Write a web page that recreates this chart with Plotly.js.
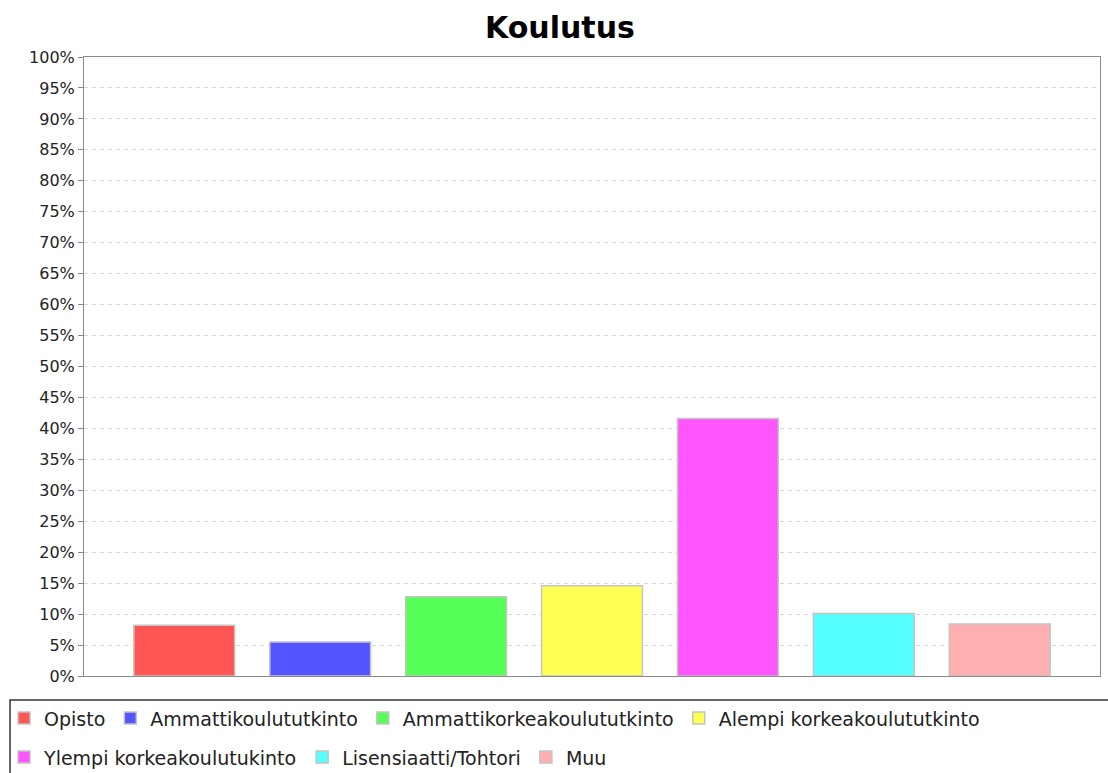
<!DOCTYPE html>
<html>
<head>
<meta charset="utf-8">
<script src="https://cdn.plot.ly/plotly-3.0.1.min.js"></script>
<style>
  html, body { margin: 0; padding: 0; background: #ffffff; }
  #chart { width: 1108px; height: 773px; }
</style>
</head>
<body>
<div id="chart"></div>
<script>
// ---- data ----
const chartTitle = 'Koulutus';
const categories = [
  'Opisto',
  'Ammattikoulututkinto',
  'Ammattikorkeakoulututkinto',
  'Alempi korkeakoulututkinto',
  'Ylempi korkeakoulutukinto',
  'Lisensiaatti/Tohtori',
  'Muu'
];
const percentValues = [8.2, 5.5, 12.8, 14.6, 41.6, 10.1, 8.4];
const seriesColors = ['#FF5555', '#5555FF', '#55FF55', '#FFFF55', '#FF55FF', '#55FFFF', '#FFAFAF'];
const firstRowCount = 4;

// ---- traces ----
const traces = categories.map((name, i) => ({
  type: 'bar',
  name: name,
  x: [name],
  y: [percentValues[i]],
  width: 0.742,
  marker: { color: seriesColors[i], line: { color: '#c4c4c4', width: 1.5 } },
  legend: i < firstRowCount ? 'legend' : 'legend2',
  hoverinfo: 'name+y'
}));

const legendFont = { family: 'DejaVu Sans, sans-serif', size: 19, color: '#222222' };

const layout = {
  width: 1108,
  height: 773,
  margin: { l: 84, r: 8, t: 57, b: 97, autoexpand: false },
  paper_bgcolor: '#ffffff',
  plot_bgcolor: '#ffffff',
  barmode: 'overlay',
  showlegend: true,
  title: {
    text: chartTitle,
    font: { family: 'DejaVu Sans, sans-serif', size: 30, color: '#000000', weight: 'bold' },
    xref: 'container', x: 0.5054, xanchor: 'center',
    yref: 'container', y: 0.965, yanchor: 'middle'
  },
  xaxis: {
    type: 'category',
    categoryorder: 'array',
    categoryarray: categories,
    range: [-0.738, 6.738],
    showticklabels: false,
    ticks: '',
    showgrid: false,
    showline: true, linecolor: '#8a8a8a', linewidth: 1, mirror: true,
    zeroline: false,
    fixedrange: true
  },
  yaxis: {
    range: [0, 100],
    tickmode: 'linear', tick0: 0, dtick: 5,
    ticksuffix: '%',
    ticks: 'outside', ticklen: 5, tickcolor: '#8a8a8a', tickwidth: 1,
    tickfont: { family: 'DejaVu Sans, sans-serif', size: 16, color: '#222222' },
    showgrid: true, gridcolor: '#d6d6d6', griddash: '4px,4px', gridwidth: 1,
    showline: true, linecolor: '#8a8a8a', linewidth: 1, mirror: true,
    zeroline: false,
    fixedrange: true
  },
  legend: {
    orientation: 'h',
    x: -0.0787, xanchor: 'left', xref: 'paper',
    y: -0.0376, yanchor: 'top', yref: 'paper',
    font: legendFont,
    bgcolor: 'rgba(0,0,0,0)',
    borderwidth: 0,
    traceorder: 'normal'
  },
  legend2: {
    orientation: 'h',
    x: -0.0787, xanchor: 'left', xref: 'paper',
    y: -0.1006, yanchor: 'top', yref: 'paper',
    font: legendFont,
    bgcolor: 'rgba(0,0,0,0)',
    borderwidth: 0,
    traceorder: 'normal'
  },
  shapes: [{
    type: 'rect', xref: 'paper', yref: 'paper',
    x0: -0.0728, x1: 1.02, y0: -0.0388, y1: -0.2,
    line: { color: '#333333', width: 1.5 },
    fillcolor: 'rgba(0,0,0,0)',
    layer: 'below'
  }]
};

Plotly.newPlot('chart', traces, layout, { displayModeBar: false, staticPlot: true });
</script>
</body>
</html>
